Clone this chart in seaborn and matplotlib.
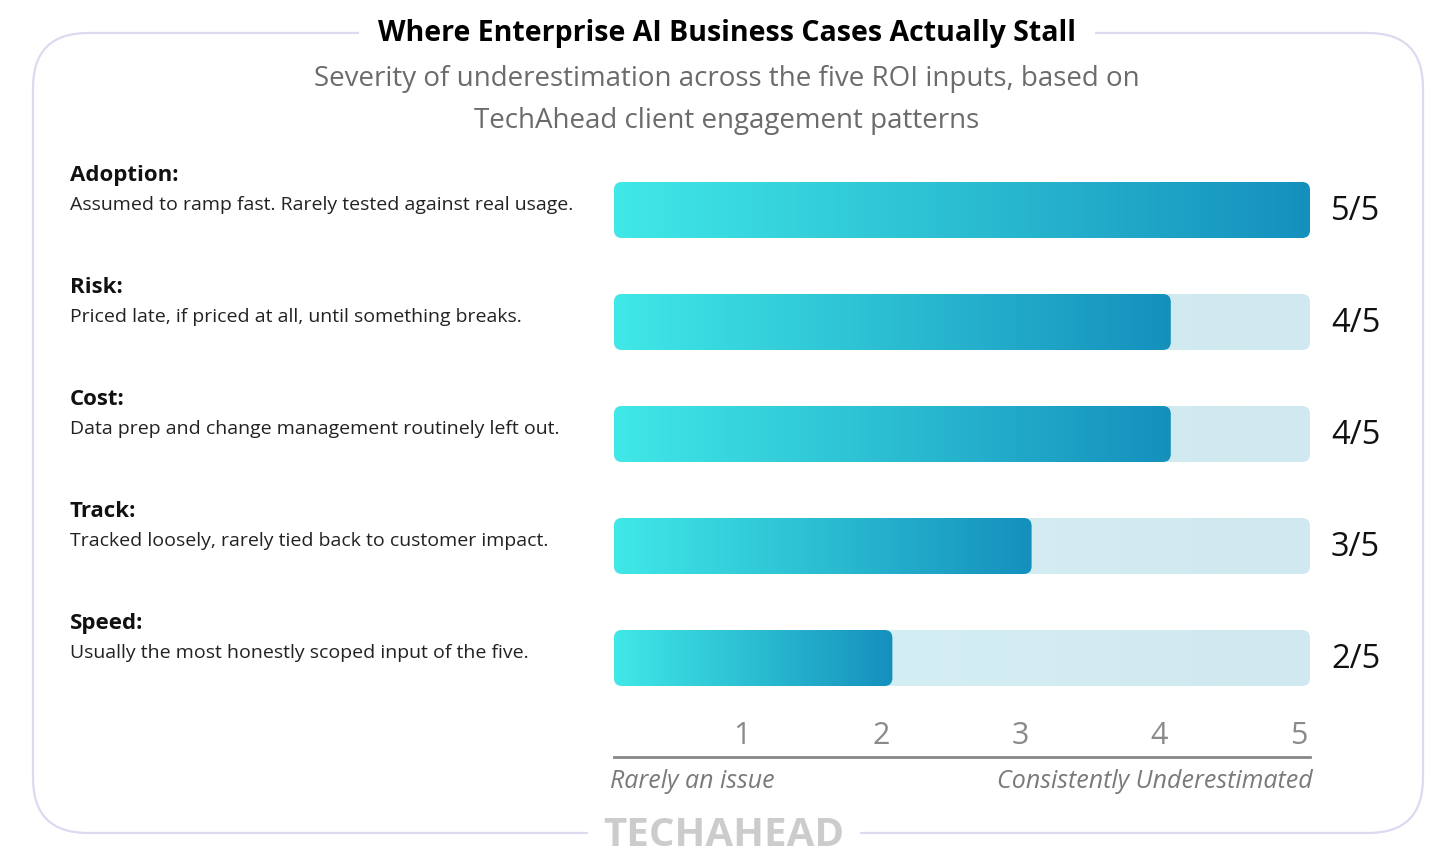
import numpy as np
import pandas as pd
import matplotlib.pyplot as plt
import seaborn as sns
from matplotlib.patches import FancyBboxPatch
from matplotlib.colors import LinearSegmentedColormap

# Data
inputs = ['Adoption', 'Risk', 'Cost', 'Track', 'Speed']
notes = [
    'Assumed to ramp fast. Rarely tested against real usage.',
    'Priced late, if priced at all, until something breaks.',
    'Data prep and change management routinely left out.',
    'Tracked loosely, rarely tied back to customer impact.',
    'Usually the most honestly scoped input of the five.',
]
severity = [5, 4, 4, 3, 2]
max_score = 5
ticks = [1, 2, 3, 4, 5]

df = pd.DataFrame({'input': inputs, 'severity': severity, 'max': max_score})

sns.set_theme(style='white')
plt.rcParams['font.family'] = ['Open Sans', 'DejaVu Sans']

W, H = 1456, 866
fig = plt.figure(figsize=(W / 100, H / 100), dpi=100)
fig.patch.set_facecolor('white')

# axes placed in pixel terms: x 614..1310, y 154..757
ax = fig.add_axes([614 / W, 1 - 757 / H, 696 / W, 603 / H])
sns.barplot(data=df, x='max', y='input', orient='h', width=0.5, color='#d3edf2', ax=ax)
sns.barplot(data=df, x='severity', y='input', orient='h', width=0.5, color='#2ab8d0', ax=ax)
ax.set_xlim(0, max_score)
ax.set_ylim(4.884, -0.5)
fig.canvas.draw()

# pixel sizes of one data unit
px_x = ax.transData.transform((1, 0))[0] - ax.transData.transform((0, 0))[0]
px_y = abs(ax.transData.transform((0, 1))[1] - ax.transData.transform((0, 0))[1])
radius_px = 8
aspect = px_x / px_y

track_cmap = LinearSegmentedColormap.from_list('track', ['#d6f3f6', '#d0e8ef'])
bar_cmap = LinearSegmentedColormap.from_list('bar', ['#40e8e8', '#2bbdd2', '#1590bd'])
grad = np.linspace(0, 1, 256).reshape(1, -1)

patches = list(ax.patches)
for i, p in enumerate(patches):
    x0, y0, w, h = p.get_x(), p.get_y(), p.get_width(), p.get_height()
    p.set_visible(False)
    cmap = track_cmap if i < len(inputs) else bar_cmap
    box = FancyBboxPatch((x0, y0), w, h,
                         boxstyle=f'round,pad=0,rounding_size={radius_px / px_x}',
                         mutation_aspect=aspect, fc='none', ec='none')
    ax.add_patch(box)
    im = ax.imshow(grad, cmap=cmap, extent=(x0, x0 + w, y0 + h, y0),
                   aspect='auto', interpolation='bicubic', zorder=2)
    im.set_clip_path(box)

ax.set_xlim(0, max_score)
ax.set_ylim(4.884, -0.5)
ax.set_xticks([])
ax.set_yticks([])
ax.set_xlabel('')
ax.set_ylabel('')
for s in ['top', 'right', 'left']:
    ax.spines[s].set_visible(False)
ax.spines['bottom'].set_color('#888888')
ax.spines['bottom'].set_linewidth(2)

# tick numbers above the axis line
xt = ax.get_xaxis_transform()
for t in ticks:
    ax.text(t - 0.02, 21 / 603, str(t), transform=xt, ha='right', va='center',
            fontsize=22, color='#8a8a8a')

# score labels
for i, v in enumerate(severity):
    ax.text(max_score + 0.15, i + 0.01, f'{v}/{max_score}', ha='left', va='center',
            fontsize=23.5, color='#111111', clip_on=False)

# left labels
for i, (name, note) in enumerate(zip(inputs, notes)):
    yc = ax.transData.transform((0, i))[1]
    fig.text(70 / W, (yc + 34) / H, f'{name}:', ha='left', va='center',
             fontsize=16, fontweight='bold', color='#111111')
    fig.text(70 / W, (yc + 5) / H, note, ha='left', va='center',
             fontsize=14, color='#222222')

# axis end captions
fig.text(610 / W, 1 - 782 / H, 'Rarely an issue', ha='left', va='center',
         fontsize=18, style='italic', color='#7a7a7a')
fig.text(1313 / W, 1 - 782 / H, 'Consistently Underestimated', ha='right', va='center',
         fontsize=18, style='italic', color='#7a7a7a')

# rounded frame
frame = FancyBboxPatch((33 / W, 1 - 833 / H), 1390 / W, 800 / H,
                       boxstyle=f'round,pad=0,rounding_size={55 / W}',
                       mutation_aspect=W / H, transform=fig.transFigure,
                       fc='none', ec='#dcdaf0', lw=1.6, zorder=0)
fig.patches.append(frame)

fig.text(727 / W, 1 - 33 / H, 'Where Enterprise AI Business Cases Actually Stall',
         ha='center', va='center', fontsize=20.5, fontweight='bold', color='#000000',
         bbox=dict(fc='white', ec='none', pad=14))
fig.text(727 / W, 1 - 100 / H,
         'Severity of underestimation across the five ROI inputs, based on\nTechAhead client engagement patterns',
         ha='center', va='center', fontsize=20, color='#6b6b6b', linespacing=1.62)
fig.text(724 / W, 1 - 836 / H, 'TECHAHEAD', ha='center', va='center',
         fontsize=29, fontweight='bold', color='#cccccc',
         bbox=dict(fc='white', ec='none', pad=11))

fig.savefig('out.png', dpi=100, facecolor='white')
